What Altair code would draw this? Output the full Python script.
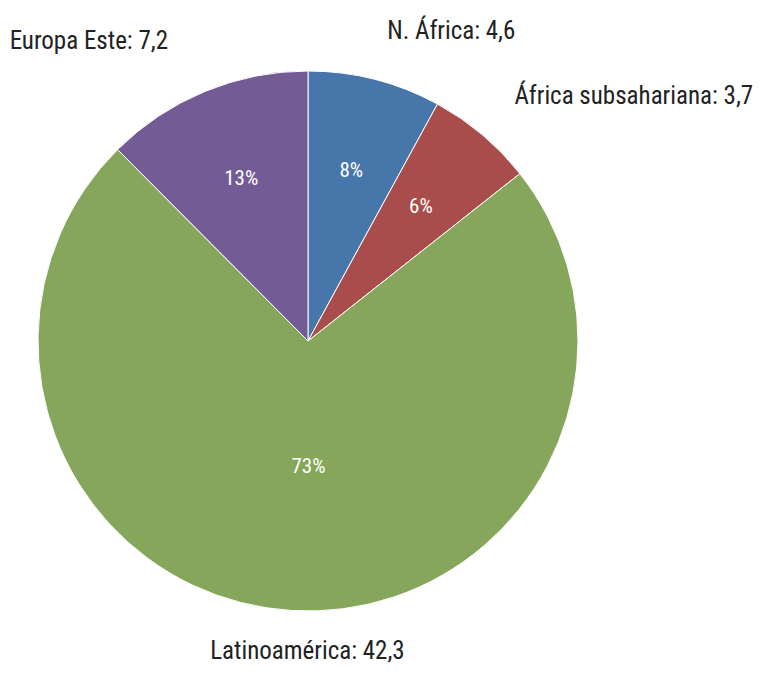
import altair as alt
import pandas as pd

categories = ["N. África", "África subsahariana", "Latinoamérica", "Europa Este"]
values = [4.6, 3.7, 42.3, 7.2]
pct_labels = ["8%", "6%", "73%", "13%"]
colors = ["#4776AB", "#A84D4B", "#86A65C", "#735B96"]

df = pd.DataFrame({
    "cat": categories,
    "value": values,
    "order": list(range(len(categories))),
    "pct": pct_labels,
})
df["label"] = [f"{c}: {str(v).replace('.', ',')}" for c, v in zip(categories, values)]

FONT = "Liberation Sans Narrow, Roboto Condensed, Arial Narrow, sans-serif"
CX, CY, R = 300, 333, 270

base = alt.Chart(df).encode(
    theta=alt.Theta("value:Q", stack=True),
    order=alt.Order("order:Q"),
    x=alt.value(CX),
    y=alt.value(CY),
)

pie = base.mark_arc(radius=R, stroke="white", strokeWidth=1).encode(
    color=alt.Color("cat:N", scale=alt.Scale(domain=categories, range=colors), legend=None)
)


def label_layer(cats, field, radius, align, size, color, dx=0, dy=0):
    return base.mark_text(
        radius=radius, align=align, baseline="middle", font=FONT,
        fontSize=size, color=color, dx=dx, dy=dy,
    ).encode(
        text=alt.condition(
            alt.FieldOneOfPredicate(field="cat", oneOf=cats),
            alt.Text(f"{field}:N"),
            alt.value(""),
        )
    )


LBL = 25
PCT = 21
layers = [
    pie,
    label_layer(["N. África", "África subsahariana"], "label", 320, "left", LBL, "#222222"),
    label_layer(["Latinoamérica"], "label", 311, "center", LBL, "#222222", dx=18),
    label_layer(["Europa Este"], "label", 325, "right", LBL, "#222222", dx=-16),
    label_layer(["N. África", "África subsahariana", "Europa Este"], "pct", 175, "center", PCT, "white"),
    label_layer(["Latinoamérica"], "pct", 126, "center", PCT, "white", dx=8),
]

chart = alt.layer(*layers).properties(
    width=753, height=662, padding=0, autosize="none", background="white"
).configure_view(stroke=None)

chart.save("out.html", embed_options={"renderer": "svg", "actions": False})
